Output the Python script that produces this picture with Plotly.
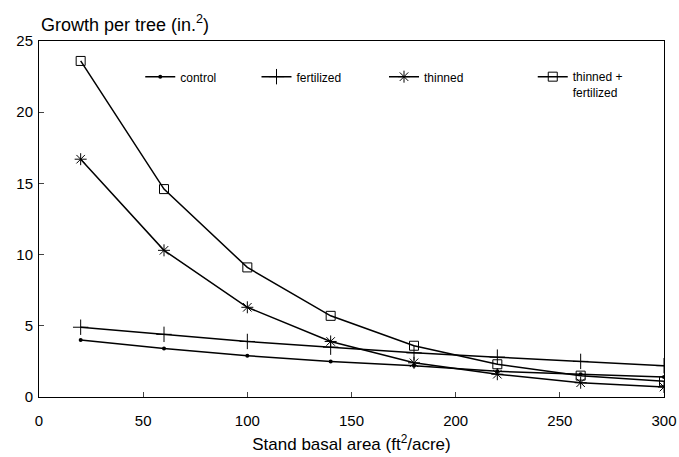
import plotly.graph_objects as go

basal_area = [20, 60, 100, 140, 180, 220, 260, 300]
control = [4.0, 3.4, 2.9, 2.5, 2.2, 1.8, 1.6, 1.4]
fertilized = [4.9, 4.4, 3.9, 3.5, 3.1, 2.8, 2.5, 2.2]
thinned = [16.7, 10.3, 6.3, 3.9, 2.4, 1.6, 1.0, 0.7]
thinned_fert = [23.6, 14.6, 9.1, 5.7, 3.6, 2.3, 1.5, 1.1]

x_ticks = [0, 50, 100, 150, 200, 250, 300]
y_ticks = [0, 5, 10, 15, 20, 25]

series = [
    ("control", control, dict(symbol="circle", size=4, color="black"), "legend", 0.162),
    ("fertilized", fertilized, dict(symbol="cross-thin", size=11, color="black",
                                    line=dict(width=1, color="black")), "legend2", 0.348),
    ("thinned", thinned, dict(symbol="asterisk-open", size=10, color="black",
                              line=dict(width=1, color="black")), "legend3", 0.552),
    ("thinned +<br>fertilized", thinned_fert, dict(symbol="square-open", size=9, color="black",
                                                  line=dict(width=1, color="black")), "legend4", 0.790),
]

font_family = "Liberation Sans, Arial, sans-serif"

fig = go.Figure()
legend_layouts = {}
for name, vals, mk, lg, lx in series:
    fig.add_trace(go.Scatter(
        x=basal_area, y=vals, name=name, mode="lines+markers",
        line=dict(color="black", width=1.5), marker=mk, legend=lg,
    ))
    legend_layouts[lg] = dict(
        x=lx, y=0.94, xanchor="left", yanchor="top", valign="top",
        bgcolor="rgba(0,0,0,0)", font=dict(size=12, family=font_family),
        itemwidth=30,
    )

fig.update_layout(
    width=679, height=457,
    margin=dict(l=39, r=15, t=41, b=60, autoexpand=False),
    paper_bgcolor="white", plot_bgcolor="white",
    font=dict(family=font_family, size=15, color="black"),
    showlegend=True,
    xaxis=dict(
        range=[0, 300], tickvals=x_ticks, ticks="inside", ticklen=5,
        showline=True, linecolor="black", linewidth=1, mirror=True,
        showgrid=False, zeroline=False, ticklabelstandoff=10, automargin=False,
        title=dict(text="Stand basal area (ft<sup>2</sup>/acre)", font=dict(size=17), standoff=10),
    ),
    yaxis=dict(
        range=[0, 25], tickvals=y_ticks, ticks="inside", ticklen=5,
        showline=True, linecolor="black", linewidth=1, mirror=True,
        showgrid=False, zeroline=False, ticklabelstandoff=2, automargin=False,
    ),
    annotations=[dict(
        text="Growth per tree (in.<sup>2</sup>)", xref="paper", yref="paper",
        x=0, y=1, xanchor="left", yanchor="bottom", yshift=4, showarrow=False,
        font=dict(size=18),
    )],
    **legend_layouts,
)

fig.write_html("out.html")
